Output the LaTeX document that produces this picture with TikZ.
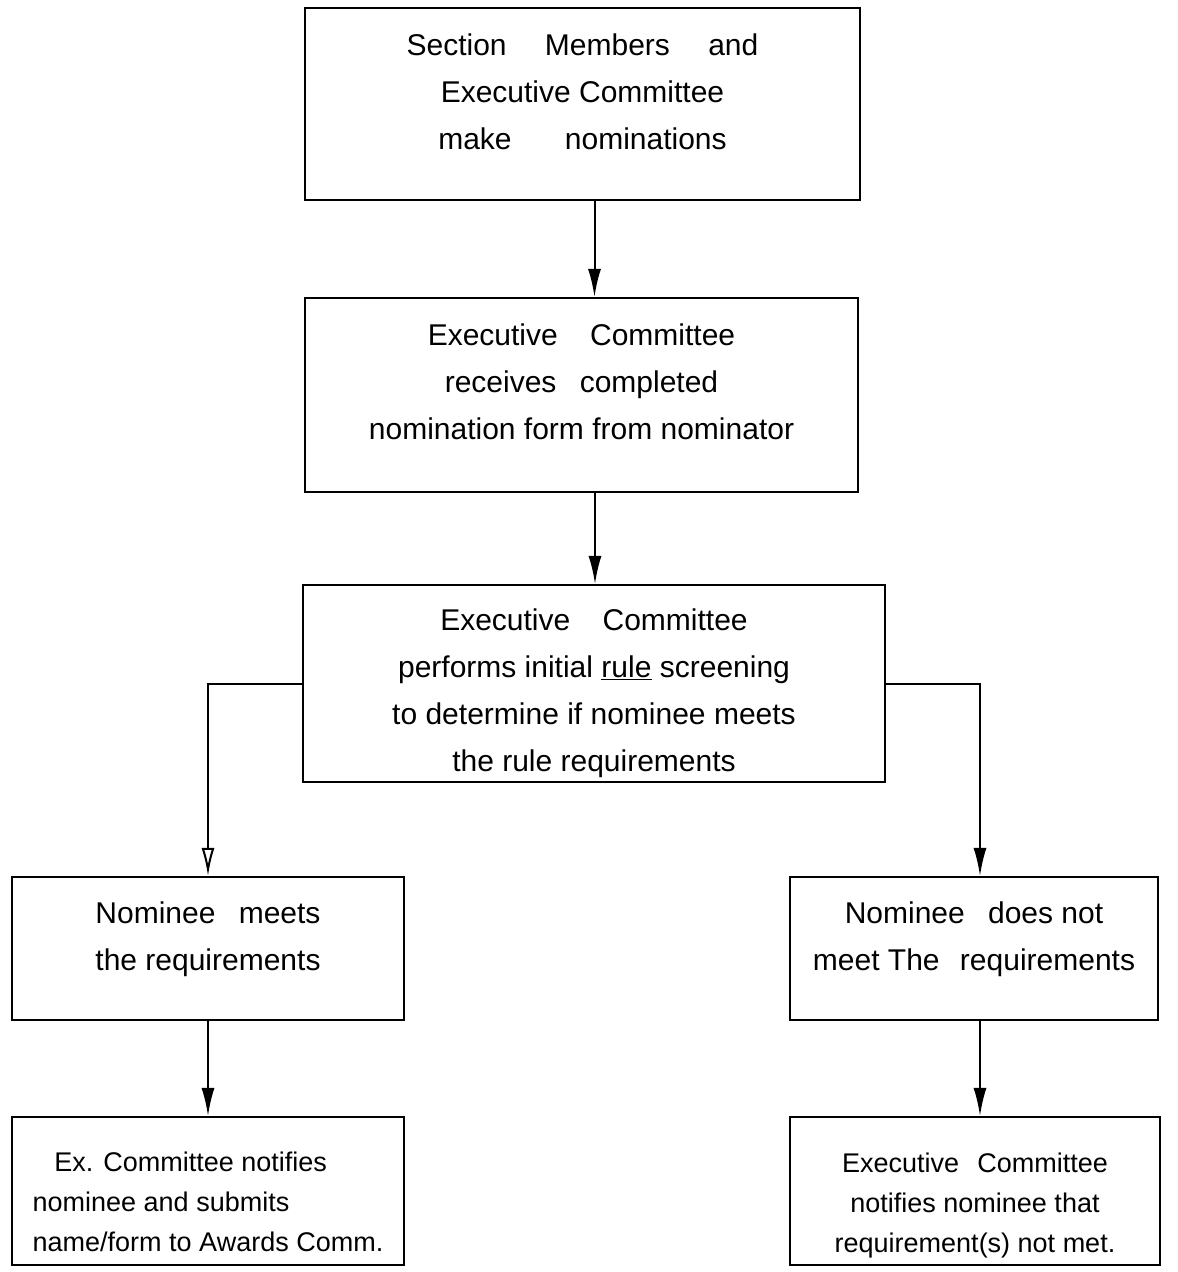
\documentclass[tikz,border=0pt]{standalone}
\usepackage{fontspec}
\newfontfamily\handfont{Liberation Sans}
\usetikzlibrary{arrows.meta}
\tikzset{
  box/.style={draw, rectangle, line width=2.2pt, inner sep=0pt, align=center,
    font=\handfont\fontsize{30}{47}\selectfont},
  smallbox/.style={box, font=\handfont\fontsize{27}{40}\selectfont},
  arr/.style={line width=2pt, -{Latex[length=28pt,width=13pt]}},
  openarr/.style={line width=2pt, -{Latex[open,length=28pt,width=13pt]}}
}
\begin{document}
\begin{tikzpicture}[x=1pt,y=-1pt]
\useasboundingbox (0,0) rectangle (1178,1272);
\fill[white] (0,0) rectangle (1178,1272);
\node[box, minimum width=555, minimum height=192] (n1) at (582.5,104)
  {Section\hspace{1em} Members\hspace{1em} and\\ Executive Committee\\ make\hspace{1.5em} nominations\\[-22pt]};
\node[box, minimum width=553, minimum height=194] (n2) at (581.5,395)
  {Executive\hspace{0.8em} Committee\\ receives\hspace{0.5em} completed\\ nomination form from nominator\\[-20pt]};
\node[box, minimum width=582, minimum height=197] (n3) at (594,683.5)
  {\rule{0pt}{42pt}Executive\hspace{0.8em} Committee\\ performs initial \underline{rule} screening\\ to determine if nominee meets\\ the rule requirements};
\node[box, minimum width=392, minimum height=143] (n4) at (208,948.5)
  {Nominee\hspace{0.5em} meets\\ the requirements\\[-22pt]};
\node[box, minimum width=368, minimum height=143] (n5) at (974,948.5)
  {Nominee\hspace{0.5em} does not\\ meet The\hspace{0.4em} requirements\\[-22pt]};
\node[smallbox, align=left, minimum width=392, minimum height=148] (n6) at (208,1191)
  {\rule{0pt}{42pt}\hspace{0.8em}Ex. Committee notifies\\ nominee and submits\\ name/form to Awards Comm.};
\node[smallbox, minimum width=370, minimum height=148] (n7) at (975,1191)
  {\rule{0pt}{48pt}Executive\hspace{0.4em} Committee\\ notifies nominee that\\ requirement(s) not met.};
\draw[arr] ([xshift=13]n2.north |- n1.south) -- ([xshift=13]n2.north);
\draw[arr] ([xshift=1]n3.north |- n2.south) -- ([xshift=1]n3.north);
\draw[openarr] (n3.west) -| (n4.north);
\draw[arr] (n3.east) -| ([xshift=6]n5.north);
\draw[arr] (n4.south) -- (n6.north);
\draw[arr] ([xshift=6]n5.south) -- ([xshift=6]n5.south |- n7.north);
\end{tikzpicture}
\end{document}
